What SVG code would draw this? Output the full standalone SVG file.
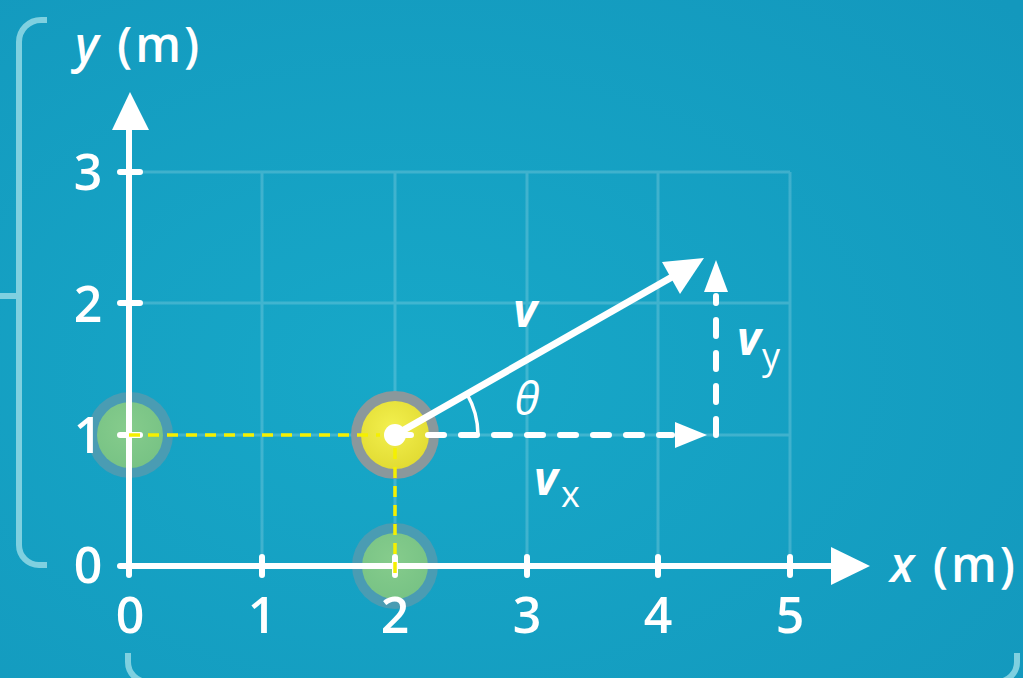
<svg xmlns="http://www.w3.org/2000/svg" width="1023" height="678" viewBox="0 0 1023 678">
  <defs>
    <radialGradient id="bg" cx="0.4" cy="0.55" r="0.8">
      <stop offset="0" stop-color="#17a8c8"/>
      <stop offset="1" stop-color="#1398bd"/>
    </radialGradient>
    <radialGradient id="yel" cx="0.45" cy="0.4" r="0.6">
      <stop offset="0" stop-color="#f3f04e"/>
      <stop offset="1" stop-color="#e2dc34"/>
    </radialGradient>
    <radialGradient id="grn" cx="0.45" cy="0.4" r="0.6">
      <stop offset="0" stop-color="#86cc8c"/>
      <stop offset="1" stop-color="#78c385"/>
    </radialGradient>
  </defs>
  <style>
    .grid { stroke: #ffffff; stroke-opacity: 0.18; stroke-width: 3; fill: none; }
    .axis { stroke: #ffffff; stroke-width: 6; stroke-linecap: round; fill: none; }
    .tick { stroke: #ffffff; stroke-width: 6; stroke-linecap: round; }
    .bracket { stroke: #7fd0e0; stroke-width: 6; fill: none; }
    .num { font-family: "Open Sans", "Liberation Sans", sans-serif; font-weight: 600; font-size: 50px; fill: #ffffff; text-anchor: middle; }
    .title { font-family: "Open Sans", "Liberation Sans", sans-serif; font-weight: 600; font-size: 48px; letter-spacing: 3px; fill: #ffffff; }
    .vec { font-family: "Open Sans", "Liberation Sans", sans-serif; font-weight: 700; font-style: italic; font-size: 46px; fill: #ffffff; }
    .sub { font-family: "Open Sans", "Liberation Sans", sans-serif; font-weight: 500; font-size: 36px; fill: #ffffff; }
    .ydash { stroke: #f5f000; stroke-width: 3.5; stroke-dasharray: 11 8; fill: none; }
    .wdash { stroke: #ffffff; stroke-width: 6; stroke-dasharray: 16 17; stroke-linecap: round; fill: none; }
    .halo { fill: #4a9cb3; }
    .ring { fill: #8a989c; }
  </style>

  <rect width="1023" height="678" fill="url(#bg)"/>

  <g id="brackets">
    <path class="bracket" d="M47,20 H41 A22,22 0 0 0 19,42 V545 A20,20 0 0 0 39,565 H47"/>
    <path class="bracket" d="M0,296 H19"/>
    <path class="bracket" d="M128,653 V662 A20,20 0 0 0 148,682 H997 A20,20 0 0 0 1017,662 V653"/>
  </g>

  <g id="grid">
    <path class="grid" d="M262,172 V566 M395,172 V566 M527,172 V566 M658,172 V566 M790,172 V566 M129,172 H790 M129,303 H790 M129,435 H790"/>
  </g>

  <g id="ball-left">
    <circle class="halo" cx="130" cy="435" r="43"/>
    <circle cx="130" cy="435" r="33" fill="url(#grn)"/>
  </g>
  <g id="ball-bottom">
    <circle class="halo" cx="395" cy="566" r="43"/>
    <circle cx="395" cy="566" r="33" fill="url(#grn)"/>
  </g>
  <g id="ball-main">
    <circle class="ring" cx="395" cy="435" r="44"/>
    <circle cx="395" cy="435" r="34" fill="url(#yel)"/>
  </g>

  <g id="axes">
    <path class="axis" d="M129,575 V128"/>
    <polygon points="130,92 112,130 149,130" fill="#ffffff"/>
    <path class="axis" d="M120,566 H834"/>
    <polygon points="870,566 831,547 831,585" fill="#ffffff"/>
    <path class="tick" d="M262,557 V575 M395,557 V575 M527,557 V575 M658,557 V575 M790,557 V575"/>
    <path class="tick" d="M120,435 H140 M120,303 H140 M120,172 H140"/>
  </g>

  <g id="axis-labels">
    <text class="num" x="88" y="190">3</text>
    <text class="num" x="88" y="322">2</text>
    <text class="num" x="88" y="453">1</text>
    <text class="num" x="88" y="583">0</text>
    <text class="num" x="130" y="633">0</text>
    <text class="num" x="262" y="633">1</text>
    <text class="num" x="395" y="633">2</text>
    <text class="num" x="527" y="633">3</text>
    <text class="num" x="658" y="633">4</text>
    <text class="num" x="790" y="633">5</text>
    <text class="title" x="75" y="62"><tspan font-style="italic">y</tspan> (m)</text>
    <text class="title" x="890" y="582"><tspan font-style="italic">x</tspan> (m)</text>
  </g>

  <g id="connectors">
    <path class="ydash" d="M129,435 H380"/>
    <path class="ydash" d="M395,448 V575"/>
    <path class="wdash" d="M395,435 H672"/>
    <polygon points="707,435 675,422 675,448" fill="#ffffff"/>
    <path class="wdash" d="M716,435 V296"/>
    <polygon points="716,260 704,292 728,292" fill="#ffffff"/>
    <path d="M395,435 L672,277" stroke="#ffffff" stroke-width="7" fill="none"/>
    <polygon points="704,258 662,262 680,294" fill="#ffffff"/>
    <path d="M478,435 A83,83 0 0 0 467,394" stroke="#ffffff" stroke-width="3.5" fill="none"/>
    <circle cx="395" cy="435" r="11" fill="#ffffff"/>
  </g>

  <g id="vector-labels">
    <text class="vec" x="525" y="327" text-anchor="middle">v</text>
    <text x="527" y="415" text-anchor="middle" font-family="'Open Sans', 'Liberation Sans', sans-serif" font-style="italic" font-weight="500" font-size="46" fill="#ffffff">θ</text>
    <text class="vec" x="737" y="355">v</text>
    <text class="sub" x="762" y="369">y</text>
    <text class="vec" x="534" y="495">v</text>
    <text class="sub" x="561" y="507">x</text>
  </g>
</svg>
